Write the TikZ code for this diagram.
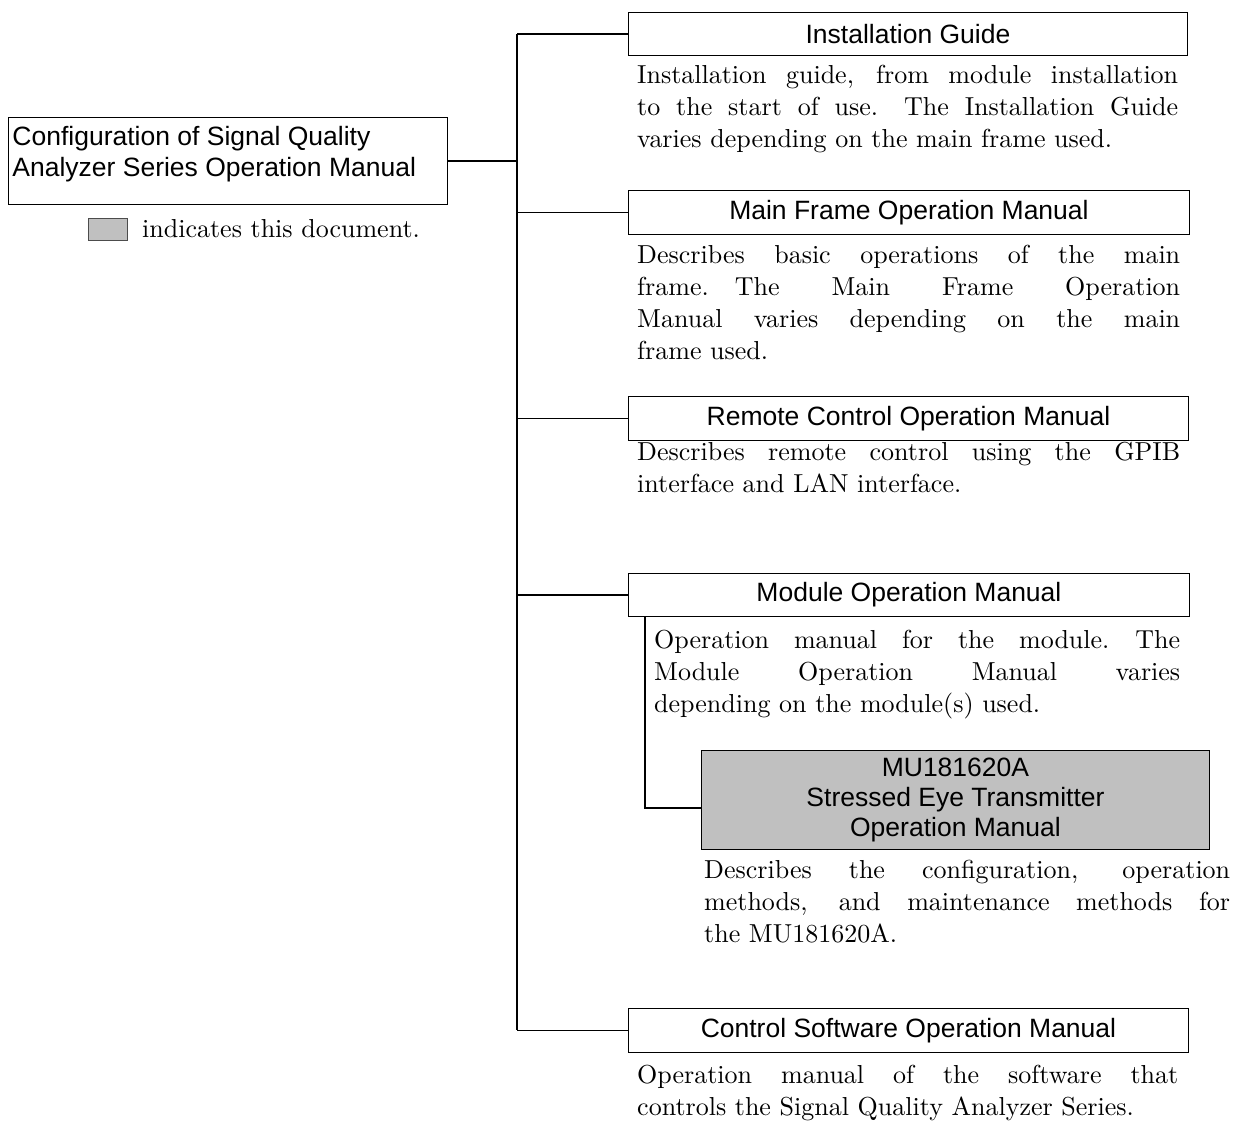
\documentclass[tikz,border=0pt]{standalone}
\usepackage{fontspec}
\newfontfamily\boxfont{Liberation Sans}
\newfontfamily\descfont{lmroman10-regular}[Extension=.otf]
\definecolor{docgray}{RGB}{192,192,192}
\newcommand\dsetup{\hyphenpenalty=10000 \tolerance=9999 \ignorespaces}
\begin{document}
\begin{tikzpicture}[x=1pt,y=-1pt,
  box/.style={draw=black, line width=0.9pt, inner sep=0pt, align=center, anchor=north west,
    font=\boxfont\fontsize{26.5}{30}\selectfont},
  desc/.style={anchor=north west, inner sep=0pt, align=justify,
    font=\descfont\fontsize{26}{32}\selectfont},
  conn/.style={line width=1.6pt}]
\useasboundingbox (0,0) rectangle (1243,1122);

% root
\node[box, anchor=north west, inner xsep=4pt, inner ysep=4pt, align=left] (root) at (8,117)
  {\parbox[c][79pt][t]{431pt}{\fontsize{26.5}{31}\selectfont\vspace*{5pt}Configuration of Signal Quality\\Analyzer Series Operation Manual}};

% legend
\node[draw=black!70, line width=0.8pt, fill=docgray, minimum width=39pt, minimum height=22pt,
  anchor=north west, inner sep=0pt] (leg) at (88,218) {};
\node[anchor=west, inner sep=0pt, font=\descfont\fontsize{26}{32}\selectfont] (legtxt) at (142,229)
  {indicates this document.};

% boxes
\node[box, minimum width=559pt, minimum height=43pt] (inst) at (628,12) {Installation Guide};
\node[box, minimum width=561pt, minimum height=44pt] (main) at (628,190) {Main Frame Operation Manual};
\node[box, minimum width=560pt, minimum height=44pt] (remote) at (628,396) {Remote Control Operation Manual};
\node[box, minimum width=561pt, minimum height=43pt] (mod) at (628,573) {Module Operation Manual};
\node[box, fill=docgray, minimum width=508pt, minimum height=99pt] (mu) at (701,750)
  {MU181620A\\Stressed Eye Transmitter\\Operation Manual};
\node[box, minimum width=560pt, minimum height=44pt] (ctrl) at (628,1008) {Control Software Operation Manual};

% descriptions
\node[desc, text width=541pt] (dinst) at (637,65)
  {\dsetup Installation guide, from module installation\linebreak to the start of use.\quad The Installation Guide\linebreak varies depending on the main frame used.};
\node[desc, text width=543pt] (dmain) at (637,245)
  {\dsetup Describes basic operations of the main\linebreak frame.\quad The Main Frame Operation\linebreak Manual varies depending on the main\linebreak frame used.};
\node[desc, text width=543pt] (dremote) at (637,442)
  {\dsetup Describes remote control using the GPIB\linebreak interface and LAN interface.};
\node[desc, text width=526pt] (dmod) at (654,630)
  {\dsetup Operation manual for the module.\quad The\linebreak Module Operation Manual varies\linebreak depending on the module(s) used.};
\node[desc, text width=526pt] (dmu) at (704,860)
  {\dsetup Describes the configuration, operation\linebreak methods, and maintenance methods for\linebreak the MU181620A.};
\node[desc, text width=541pt] (dctrl) at (637,1065)
  {\dsetup Operation manual of the software that\linebreak controls the Signal Quality Analyzer Series.};

% connectors
\coordinate (tr) at (517,0);
\draw[conn] (root.east) -- (root.east -| tr);
\draw[conn] (inst.west -| tr) -- (ctrl.west -| tr);
\foreach \n in {inst,main,remote,mod,ctrl} \draw[conn] (\n.west -| tr) -- (\n.west);
\draw[conn] ([xshift=17pt]mod.south west) |- ([yshift=-8pt]mu.west);
\end{tikzpicture}
\end{document}
